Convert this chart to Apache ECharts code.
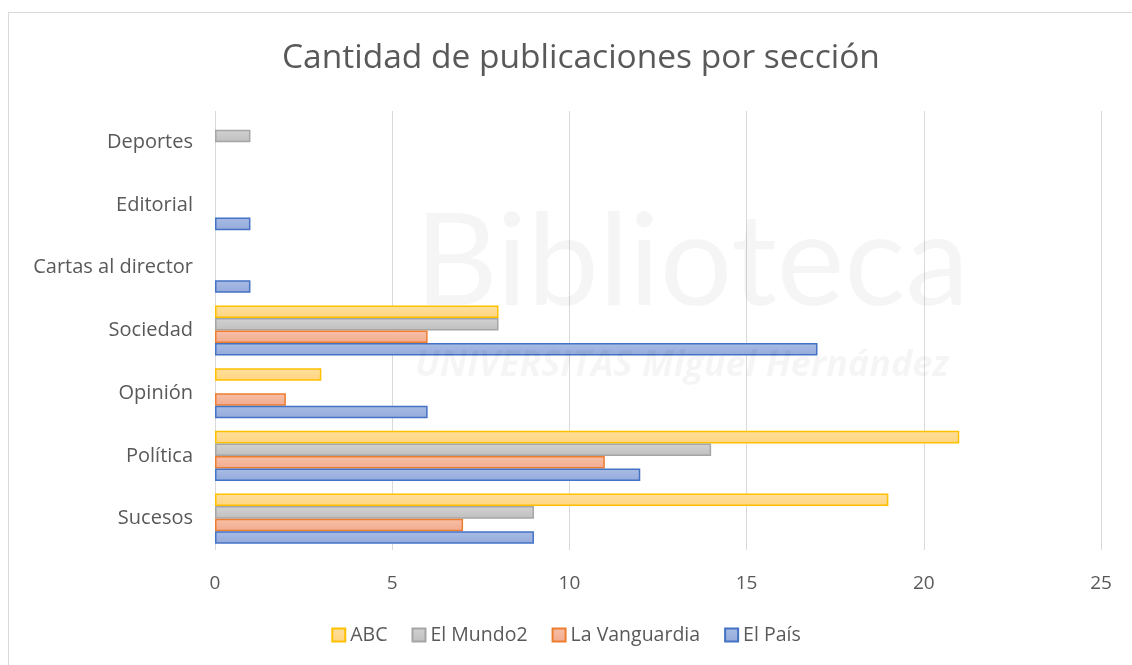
<!DOCTYPE html>
<html>
<head>
<meta charset="utf-8">
<script src="https://cdn.jsdelivr.net/npm/echarts@6/dist/echarts.min.js"></script>
<style>
  html, body { margin: 0; padding: 0; background: #fff; }
  #main { width: 1132px; height: 665px; }
</style>
</head>
<body>
<div id="main"></div>
<script>
// categories from bottom to top
const sections = ['Sucesos', 'Política', 'Opinión', 'Sociedad', 'Cartas al director', 'Editorial', 'Deportes'];
const abc = [19, 21, 3, 8, null, null, null];
const elMundo2 = [9, 14, null, 8, null, null, 1];
const laVanguardia = [7, 11, 2, 6, null, null, null];
const elPais = [9, 12, 6, 17, 1, 1, null];
const xTicks = [0, 5, 10, 15, 20, 25];

const font = '"Open Sans", sans-serif';
const textColor = '#595959';

const chart = echarts.init(document.getElementById('main'));

function barSeries(name, data, fill, border) {
  return {
    name: name,
    type: 'bar',
    data: data,
    barGap: '0%',
    barCategoryGap: '20%',
    itemStyle: {
      color: new echarts.graphic.LinearGradient(0, 0, 0, 1, [
        { offset: 0, color: fill[0] },
        { offset: 1, color: fill[1] },
      ]),
      borderColor: border,
      borderWidth: 1.5,
    },
  };
}

const option = {
  backgroundColor: '#fff',
  animation: false,
  title: {
    text: 'Cantidad de publicaciones por sección',
    left: 277,
    top: 36,
    textStyle: { fontFamily: font, fontSize: 33.5, fontWeight: 'normal', color: textColor },
  },
  legend: {
    bottom: 15,
    left: 'center',
    data: ['ABC', 'El Mundo2', 'La Vanguardia', 'El País'],
    icon: 'rect',
    itemWidth: 13,
    itemHeight: 13,
    itemGap: 24,
    textStyle: { fontFamily: font, fontSize: 19.5, color: textColor },
  },
  grid: { left: 215, right: 31, top: 111, bottom: 115 },
  xAxis: {
    type: 'value',
    min: xTicks[0],
    max: xTicks[xTicks.length - 1],
    interval: 5,
    axisLine: { show: false },
    axisTick: { show: false },
    splitLine: { lineStyle: { color: '#d9d9d9', width: 1 } },
    axisLabel: { fontFamily: font, fontSize: 19, color: textColor, margin: 24 },
  },
  yAxis: {
    type: 'category',
    data: sections,
    axisLine: { show: false },
    axisTick: { show: false },
    axisLabel: { fontFamily: font, fontSize: 20, color: textColor, margin: 22 },
  },
  graphic: [
    { type: 'line', shape: { x1: 8.5, y1: 12.5, x2: 8.5, y2: 665 }, style: { stroke: '#d9d9d9', lineWidth: 1 } },
    { type: 'line', shape: { x1: 8, y1: 12.5, x2: 1132, y2: 12.5 }, style: { stroke: '#d9d9d9', lineWidth: 1 } },
    {
      type: 'text', left: 415, top: 200, z: 100, silent: true,
      style: { text: 'Biblioteca', fontFamily: 'Lato, sans-serif', fontSize: 128, fill: 'rgba(0,0,0,0.04)' },
    },
    {
      type: 'text', left: 415, top: 348, z: 100, silent: true,
      style: { text: 'UNIVERSITAS Miguel Hernández', fontFamily: font, fontSize: 36, fontWeight: 'bold', fontStyle: 'italic', fill: 'rgba(0,0,0,0.04)' },
    },
  ],
  series: [
    barSeries('ABC', abc, ['#ffe09e', '#ffd47e'], '#ffc000'),
    barSeries('El Mundo2', elMundo2, ['#d2d2d2', '#bfbfbf'], '#a5a5a5'),
    barSeries('La Vanguardia', laVanguardia, ['#f7c0a8', '#f2ab8e'], '#ed7d31'),
    barSeries('El País', elPais, ['#a9bce4', '#94aadb'], '#4472c4'),
  ],
};

chart.setOption(option);
</script>
</body>
</html>
